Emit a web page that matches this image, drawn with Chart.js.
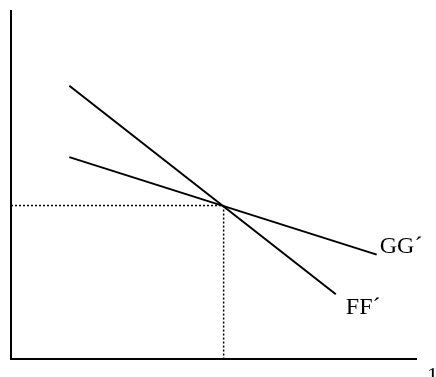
<!DOCTYPE html>
<html>
<head>
<meta charset="utf-8">
<script src="https://cdn.jsdelivr.net/npm/chart.js@4/dist/chart.umd.min.js"></script>
<style>
  html, body { margin: 0; padding: 0; background: #fff; }
  #wrap { width: 436px; height: 377px; }
</style>
</head>
<body>
<div id="wrap"><canvas id="diagram"></canvas></div>
<script>
// curve end points (axis units 0-100)
const ffPoints = [{ x: 14.4, y: 78.5 }, { x: 80.2, y: 18.6 }];
const ggPoints = [{ x: 14.4, y: 58.0 }, { x: 90.3, y: 30.0 }];
// equilibrium marked by the dotted guides
const equilibrium = { x: 52.5, y: 44.1 };
const curveLabels = ['FF´', 'GG´'];
const cornerLabel = '1';

const hGuide = [{ x: 0, y: equilibrium.y }, { x: equilibrium.x, y: equilibrium.y }];
const vGuide = [{ x: equilibrium.x, y: equilibrium.y }, { x: equilibrium.x, y: 0 }];

// text next to the curve ends
const labelPlugin = {
    id: 'curveLabels',
    afterDatasetsDraw(chart) {
        const ctx = chart.ctx;
        const xs = chart.scales.x, ys = chart.scales.y;
        ctx.save();
        ctx.fillStyle = '#000';
        ctx.font = '24px "Liberation Serif", "Times New Roman", serif';
        ctx.textBaseline = 'top';
        ctx.textAlign = 'left';
        const ffEnd = ffPoints[ffPoints.length - 1];
        const ggEnd = ggPoints[ggPoints.length - 1];
        ctx.fillText(curveLabels[0], xs.getPixelForValue(ffEnd.x) + 10, ys.getPixelForValue(ffEnd.y) + 1);
        ctx.fillText(curveLabels[1], xs.getPixelForValue(ggEnd.x) + 3, ys.getPixelForValue(ggEnd.y) - 20);
        ctx.font = '22px "Liberation Serif", "Times New Roman", serif';
        ctx.fillText(cornerLabel, chart.chartArea.right + 11, chart.chartArea.bottom + 6);
        ctx.restore();
    }
};

new Chart(document.getElementById('diagram'), {
    type: 'scatter',
    data: {
        datasets: [
            { data: ffPoints, showLine: true, borderColor: '#000', borderWidth: 2, pointRadius: 0 },
            { data: ggPoints, showLine: true, borderColor: '#000', borderWidth: 2, pointRadius: 0 },
            { data: hGuide, showLine: true, borderColor: '#000', borderWidth: 1.5, borderDash: [2, 2], pointRadius: 0 },
            { data: vGuide, showLine: true, borderColor: '#000', borderWidth: 1.5, borderDash: [2, 2], pointRadius: 0 }
        ]
    },
    options: {
        responsive: true,
        maintainAspectRatio: false,
        animation: false,
        layout: { padding: { left: 11, top: 11, right: 20, bottom: 18 } },
        plugins: {
            legend: { display: false },
            tooltip: { enabled: false }
        },
        scales: {
            x: {
                min: 0, max: 100,
                grid: { display: false, drawTicks: false },
                ticks: { display: false },
                border: { display: true, color: '#000', width: 2 }
            },
            y: {
                min: 0, max: 100,
                grid: { display: false, drawTicks: false },
                ticks: { display: false },
                border: { display: true, color: '#000', width: 2 }
            }
        }
    },
    plugins: [labelPlugin]
});
</script>
</body>
</html>
